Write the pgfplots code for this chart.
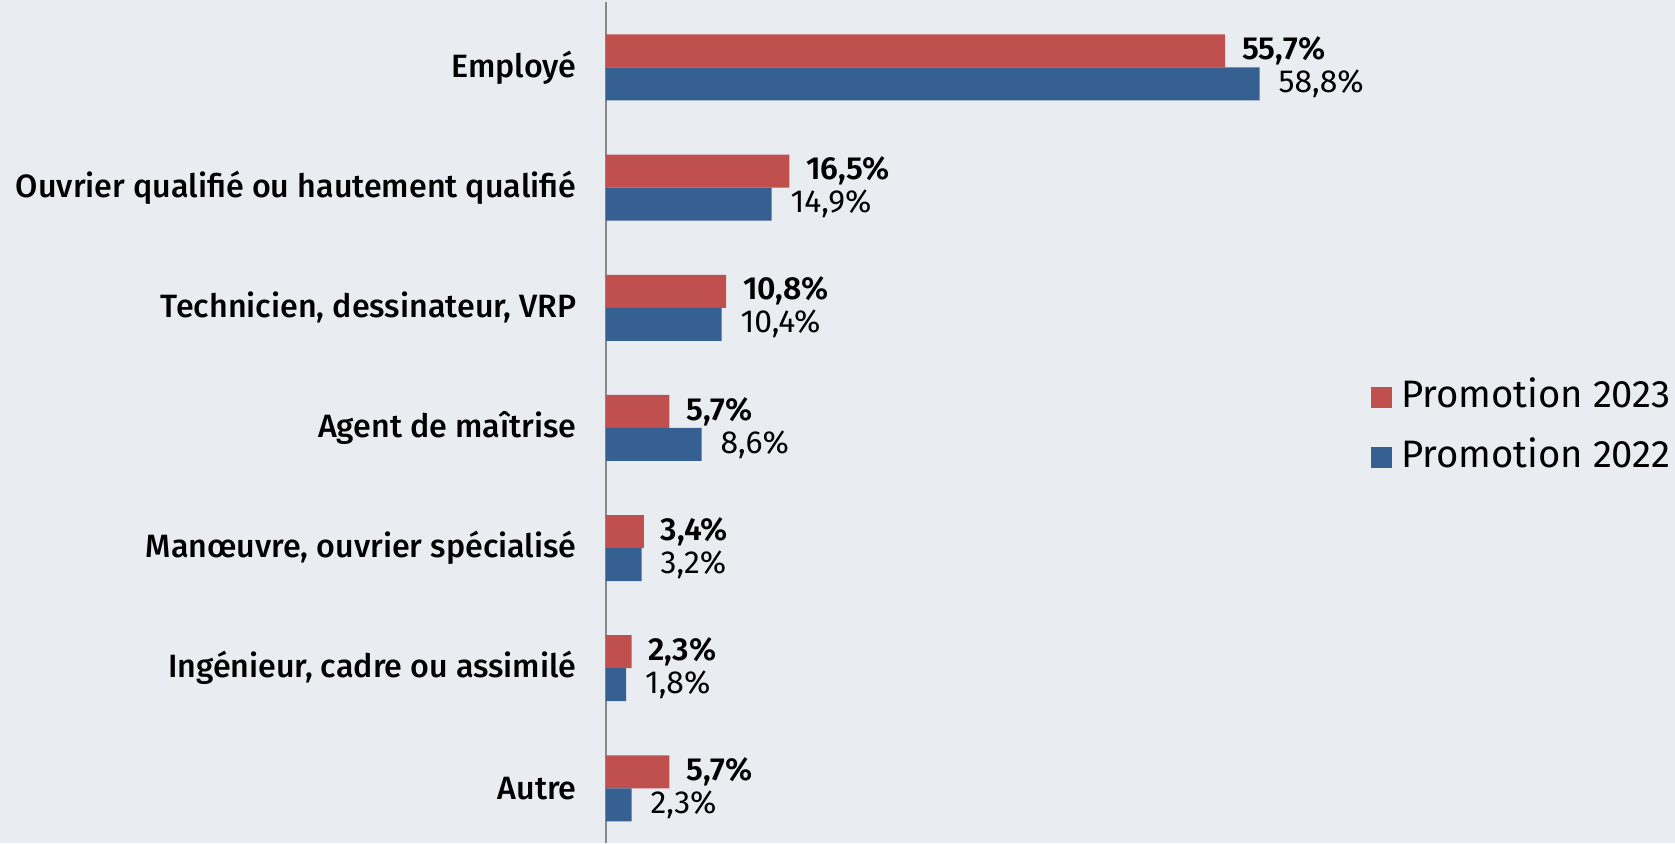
\documentclass[border=0pt]{standalone}
\usepackage{fontspec}
\setmainfont{Fira Sans}[BoldFont={Fira Sans SemiBold}]
\newfontfamily\medfont{Fira Sans Medium}
\usepackage{pgfplots}
\pgfplotsset{compat=1.18}
\definecolor{bg}{RGB}{233,237,241}
\definecolor{cRed}{RGB}{192,80,77}
\definecolor{cBlue}{RGB}{55,96,146}
\definecolor{axg}{RGB}{136,136,136}
\begin{document}
\begin{tikzpicture}
\fill[bg] (-303bp,0) rectangle (534.5bp,421.5bp);
\begin{axis}[
  at={(0,0)}, anchor=south west,
  scale only axis, width=333.5bp, height=420.5bp,
  xmin=0, xmax=60, ymin=-0.455, ymax=6.545,
  xbar, bar width=16.5bp, clip=false,
  hide x axis,
  axis y line=left,
  y axis line style={-, draw=axg, line width=1bp},
  ytick={0,1,2,3,4,5,6},
  yticklabels={Autre,{Ingénieur, cadre ou assimilé},{Manœuvre, ouvrier spécialisé},Agent de maîtrise,{Technicien, dessinateur, VRP},Ouvrier qualifié ou hautement qualifié,Employé},
  major tick length=0pt,
  yticklabel style={font=\medfont\fontsize{16.2}{18}\selectfont, inner sep=0pt, xshift=-14.5bp},
  /pgf/number format/assume math mode=true,
  nodes near coords={\pgfmathprintnumber[fixed,fixed zerofill,precision=1,use comma]{\pgfplotspointmeta}\%},
  legend style={at={(1.147,0.4935)}, anchor=west, draw=none, fill=none, inner sep=0pt,
    row sep=12bp, font=\fontsize{19.2}{19.2}\selectfont,
    nodes={text height=14bp, text depth=4bp, inner sep=0pt, anchor=west, xshift=5bp}},
  legend cell align=left,
  legend image code/.code={\fill[#1,draw=none] (0bp,-5.25bp) rectangle (10.5bp,5.25bp);},
]
\addplot[fill=cRed, draw=none, bar shift=8.25bp,
  every node near coord/.append style={font=\bfseries\fontsize{16}{18}\selectfont, anchor=west, xshift=5bp, text=black}]
  coordinates {(55.7,6) (16.5,5) (10.8,4) (5.7,3) (3.4,2) (2.3,1) (5.7,0)};
\addlegendentry{\hspace{4.3bp}Promotion 2023}
\addplot[fill=cBlue, draw=none, bar shift=-8.25bp,
  every node near coord/.append style={font=\fontsize{16}{18}\selectfont, anchor=west, xshift=6bp, text=black}]
  coordinates {(58.8,6) (14.9,5) (10.4,4) (8.6,3) (3.2,2) (1.8,1) (2.3,0)};
\addlegendentry{\hspace{4.3bp}Promotion 2022}
\end{axis}
\end{tikzpicture}
\end{document}
